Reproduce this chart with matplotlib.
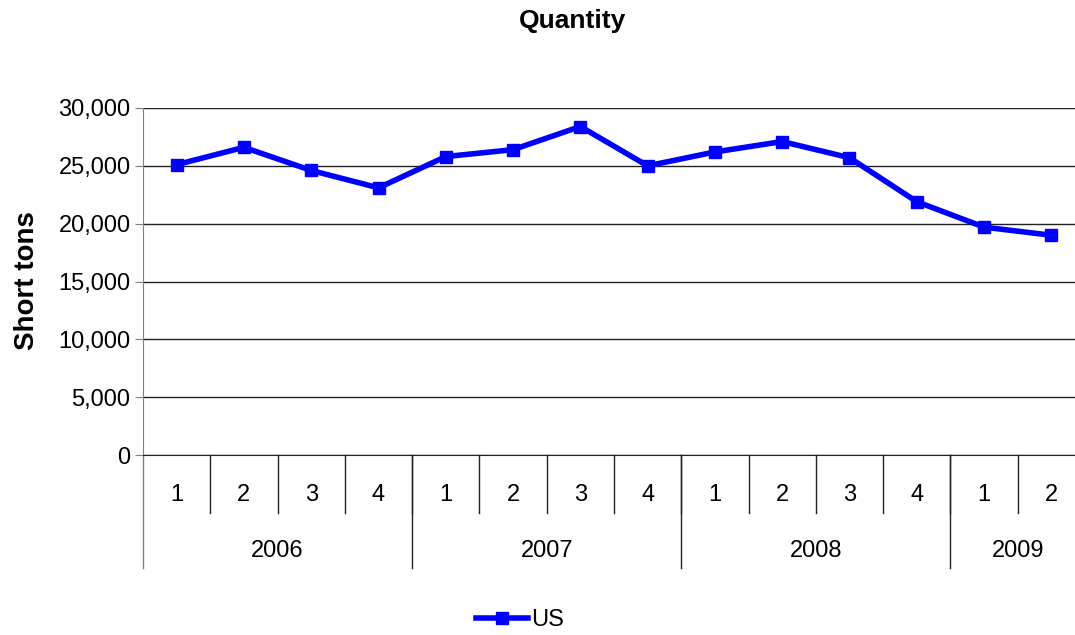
#!/usr/bin/env python3
import matplotlib
matplotlib.use("Agg")
import matplotlib.pyplot as plt
from matplotlib.ticker import FuncFormatter

plt.rcParams["font.family"] = ["Liberation Sans", "DejaVu Sans"]

# Data
years = ["2006", "2007", "2008", "2009"]
quarters_per_year = [4, 4, 4, 2]
quarter_labels = ["1", "2", "3", "4", "1", "2", "3", "4", "1", "2", "3", "4", "1", "2"]
us_tons = [25100, 26600, 24600, 23100, 25800, 26400, 28400, 25000,
           26200, 27100, 25700, 21900, 19700, 19000]

blue = "#0000FF"

fig = plt.figure(figsize=(10.75, 6.35), dpi=100)
ax = fig.add_axes([143 / 1075, 1 - 455 / 635, 942 / 1075, 347 / 635])

n = len(us_tons)
xs = [i + 0.5 for i in range(n)]
ax.plot(xs, us_tons, color=blue, lw=4, marker="s", ms=9, label="US",
        clip_on=False, zorder=3)

ax.set_xlim(0, n)
ax.set_ylim(0, 30000)
ax.set_yticks(range(0, 30001, 5000))
ax.yaxis.set_major_formatter(FuncFormatter(lambda v, p: f"{int(v):,}"))
ax.tick_params(axis="y", labelsize=17, length=6, color="#808080", pad=3)
ax.set_xticks([])
ax.yaxis.grid(True, color="#222222", lw=1)
ax.set_axisbelow(True)

for s in ["top", "right"]:
    ax.spines[s].set_visible(False)
ax.spines["left"].set_color("#808080")
ax.spines["bottom"].set_color("#222222")

# multi-level category axis
trans = ax.get_xaxis_transform()
q_len = -58 / 347
y_len = -113 / 347
for i in range(1, n):
    ax.plot([i, i], [0, q_len], transform=trans, color="#222222", lw=1, clip_on=False)
for i, lab in enumerate(quarter_labels):
    ax.text(i + 0.5, -40 / 347, lab, transform=trans, ha="center", va="center", fontsize=17)

start = 0
ax.plot([0, 0], [0, y_len], transform=trans, color="#808080", lw=1, clip_on=False)
for yr, cnt in zip(years, quarters_per_year):
    end = start + cnt
    ax.plot([end, end], [0, y_len], transform=trans, color="#222222", lw=1, clip_on=False)
    ax.text((start + end) / 2, -96 / 347, yr, transform=trans, ha="center", va="center",
            fontsize=17)
    start = end

fig.text(572 / 1075, 1 - 21 / 635, "Quantity", ha="center", va="center",
         fontsize=19, fontweight="bold")
fig.text(27 / 1075, 1 - 281 / 635, "Short tons", ha="center", va="center",
         rotation=90, fontsize=20, fontweight="bold")

fig.legend(loc="center", bbox_to_anchor=(520 / 1075, 1 - 620 / 635), frameon=False,
           fontsize=17, handlelength=2.2, handletextpad=0.1, markerscale=1.0)

fig.savefig("out.png", dpi=100)
